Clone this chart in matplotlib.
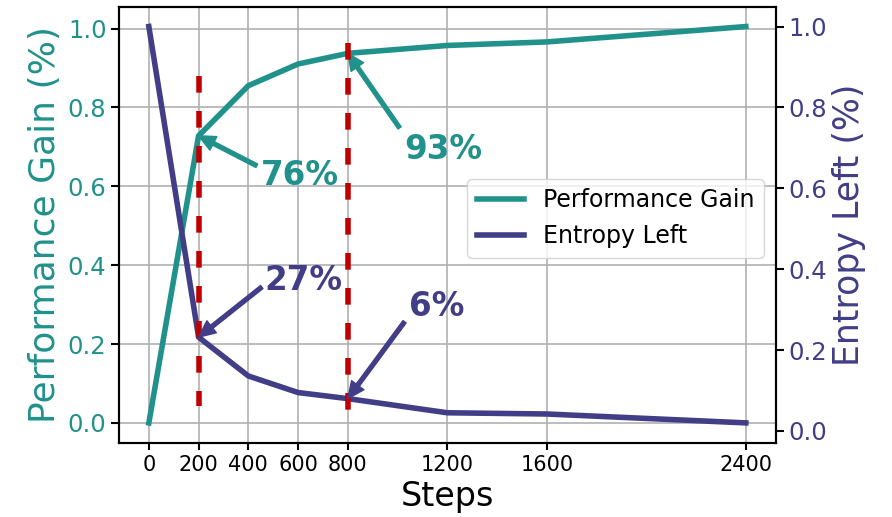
"""
Performance gain vs. entropy left over training steps (twin y-axes).
"""

import matplotlib
matplotlib.use('Agg')
import matplotlib.pyplot as plt

# Data
steps = [0, 200, 400, 600, 800, 1200, 1600, 2400]
performance_gain = [0.0, 0.728, 0.855, 0.91, 0.937, 0.957, 0.966, 1.005]
entropy_left = [1.0, 0.232, 0.136, 0.095, 0.08, 0.045, 0.042, 0.02]

perf_color = '#21918c'
ent_color = '#413e87'
mark_color = '#c00000'

fig, ax1 = plt.subplots(figsize=(8.92, 5.17), dpi=100)
fig.subplots_adjust(left=0.1334, right=0.8696, top=0.987, bottom=0.1437)

ax1.plot(steps, performance_gain, color=perf_color, lw=4, label='Performance Gain')
ax1.set_xticks(steps)
ax1.tick_params(axis='x', labelsize=15, length=5, width=1.5)
ax1.tick_params(axis='y', labelsize=17.5, labelcolor=perf_color, length=5.5, width=1.5)
ax1.set_xlabel('Steps', fontsize=24, labelpad=4)
ax1.set_ylabel('Performance Gain (%)', fontsize=26, color=perf_color)
ax1.grid(True, color='#b0b0b0', lw=1.2)
ax1.set_axisbelow(True)

ax2 = ax1.twinx()
ax2.plot(steps, entropy_left, color=ent_color, lw=4, label='Entropy Left')
ax2.tick_params(axis='y', labelsize=17.5, labelcolor=ent_color, length=5.5, width=1.5)
ax2.set_ylabel('Entropy Left (%)', fontsize=25, color=ent_color)

for ax in (ax1, ax2):
    for spine in ax.spines.values():
        spine.set_linewidth(1.5)

# Markers at the two milestone steps
ax2.plot([200, 200], [0.877, 0.062], color=mark_color, lw=4, dashes=(3, 3.3))
ax2.plot([800, 800], [0.96, 0.042], color=mark_color, lw=4, dashes=(3, 3.3))


def callout(ax, label, xy, tail, text_xy, color):
    """Arrow from tail to the point, with a bold label next to the tail."""
    ax.annotate('', xy=xy, xytext=tail,
                arrowprops=dict(facecolor=color, edgecolor=color, width=2.8,
                                headwidth=11, headlength=12, shrink=0.0))
    ax.text(text_xy[0], text_xy[1], label, ha='left', va='center',
            fontsize=23.5, fontweight='bold', color=color)


callout(ax1, '76%', (200, performance_gain[1]), (434, 0.652), (450, 0.627), perf_color)
callout(ax1, '93%', (800, performance_gain[4]), (1008, 0.748), (1028, 0.693), perf_color)
callout(ax2, '27%', (200, entropy_left[1]), (454, 0.356), (463, 0.372), ent_color)
callout(ax2, '6%', (800, entropy_left[4]), (1028, 0.270), (1045, 0.307), ent_color)

lines = ax1.get_lines()[:1] + ax2.get_lines()[:1]
ax2.legend(lines, [l.get_label() for l in lines], loc='center right',
           bbox_to_anchor=(1.0, 0.515), fontsize=17)

plt.savefig('out.png', dpi=100, facecolor='white')
plt.close()
